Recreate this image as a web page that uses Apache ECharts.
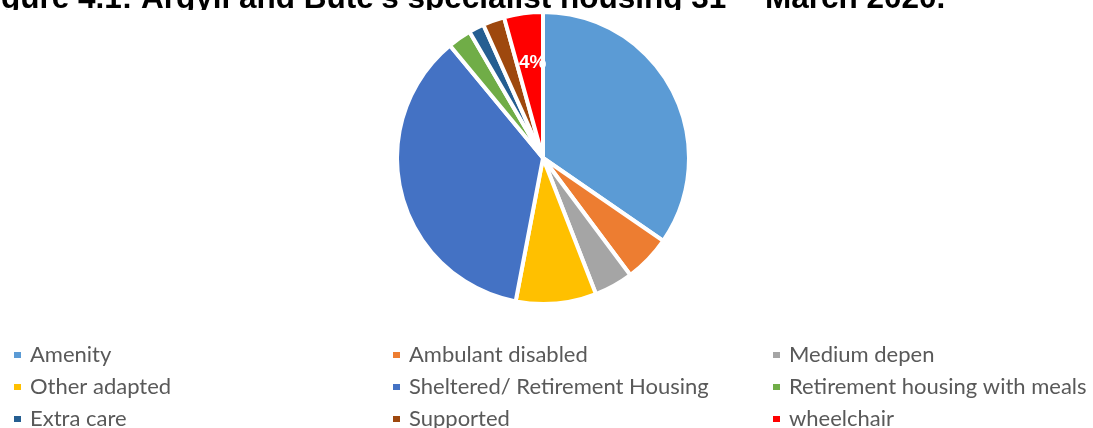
<!DOCTYPE html>
<html>
<head>
<meta charset="utf-8">
<title>Specialist housing</title>
<script src="https://cdn.jsdelivr.net/npm/echarts@6/dist/echarts.min.js"></script>
<style>
  html, body { margin: 0; padding: 0; background: #ffffff; }
  #chart { width: 1093px; height: 428px; }
</style>
</head>
<body>
<div id="chart"></div>
<script>
// Housing categories, in drawing order (clockwise from 12 o'clock)
const categories = [
  'Amenity', 'Ambulant disabled', 'Medium depen',
  'Other adapted', 'Sheltered/ Retirement Housing', 'Retirement housing with meals',
  'Extra care', 'Supported', 'wheelchair'
];
// Share of specialist housing stock (%)
const shares = [34.6, 5.2, 4.3, 8.9, 36.0, 2.6, 1.7, 2.4, 4.3];
const colors = ['#5B9BD5', '#ED7D31', '#A5A5A5', '#FFC000', '#4472C4', '#70AD47', '#255E91', '#9E480E', '#FF0000'];
// Only this slice carries a percentage label
const labelled = ['wheelchair'];

const chart = echarts.init(document.getElementById('chart'), null, { renderer: 'canvas' });

const pieData = categories.map((name, i) => ({
  name: name,
  value: shares[i],
  itemStyle: { color: colors[i] },
  label: { show: labelled.includes(name) }
}));

// Legend laid out as three columns of three
const legendCols = [0, 1, 2].map(c => categories.filter((_, i) => i % 3 === c));
const legendLeft = [12, 391, 771];
const legends = legendCols.map((names, c) => ({
  data: names,
  orient: 'vertical',
  left: legendLeft[c],
  top: 344,
  height: 200,
  padding: 0,
  itemGap: 10,
  itemWidth: 9,
  itemHeight: 8,
  icon: 'rect',
  selectedMode: false,
  textStyle: {
    fontFamily: 'Lato',
    fontSize: 22,
    lineHeight: 20,
    color: '#595959',
    padding: [0, 0, 0, 3]
  }
}));

chart.setOption({
  animation: false,
  backgroundColor: '#ffffff',
  graphic: [{
    // chart title, mostly above the top edge of the canvas
    type: 'text',
    left: -27,
    top: -31,
    z: 0,
    style: {
      text: "{t|Figure 4.1: Argyll and Bute's specialist housing 31}{s|st}{t| March 2020.}",
      rich: {
        t: { fontFamily: 'Liberation Sans, Arial', fontWeight: 'bold', fontSize: 31.5, fill: '#000000' },
        s: { fontFamily: 'Liberation Sans, Arial', fontWeight: 'bold', fontSize: 20, fill: '#000000', width: 30, padding: [0, 0, 40, 0] }
      }
    }
  }, {
    // plot area background, overlapping the title's lower edge
    type: 'rect',
    left: 0,
    top: 10,
    z: 1,
    shape: { width: 1093, height: 8 },
    style: { fill: '#ffffff' }
  }],
  legend: legends,
  series: [{
    type: 'pie',
    z: 2,
    center: [543, 158],
    radius: 146,
    startAngle: 90,
    clockwise: true,
    data: pieData,
    itemStyle: { borderColor: '#ffffff', borderWidth: 4 },
    label: {
      show: false,
      position: 'inside',
      formatter: p => '{v|' + Math.round(p.percent) + '%}\n{g|}',
      rich: {
        v: {
          fontFamily: 'Liberation Sans, Arial',
          fontWeight: 'bold',
          fontSize: 19,
          lineHeight: 20,
          color: '#ffffff'
        },
        g: { height: 40, lineHeight: 40 }
      }
    },
    labelLine: { show: false },
    emphasis: { disabled: true }
  }]
});
</script>
</body>
</html>
